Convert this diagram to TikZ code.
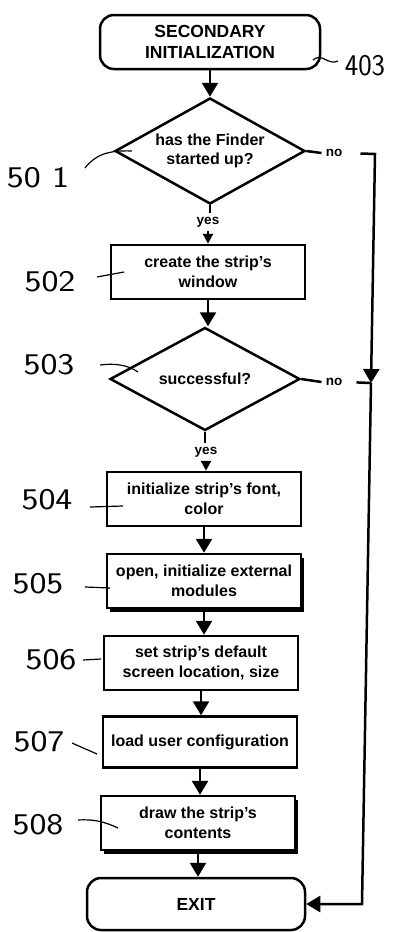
\documentclass[tikz,border=0pt]{standalone}
\usepackage{fontspec}
\setmainfont{Liberation Sans}
\usetikzlibrary{shapes.geometric,arrows.meta,shadows}
\newcommand{\hw}[2][1.2]{\scalebox{#1}[1]{#2}}
\begin{document}
\begin{tikzpicture}[x=1pt,y=-1pt,
  line width=2.5pt,
  body/.style={font=\fontsize{16}{19.5}\selectfont\bfseries, align=center},
  term/.style={rectangle, rounded corners=14pt, draw, fill=white, minimum width=220pt, minimum height=54pt, font=\fontsize{17.5}{21}\selectfont\bfseries, align=center, inner sep=0pt},
  proc/.style={rectangle, draw, fill=white, minimum width=194pt, minimum height=54pt, body, inner sep=0pt},
  dec/.style={diamond, draw, fill=white, aspect=1.8, minimum width=190pt, minimum height=106pt, body, inner sep=0pt},
  shad/.style={drop shadow={shadow xshift=3pt, shadow yshift=-4pt, fill=black, opacity=1}},
  flow/.style={-{Triangle[width=16pt,length=14pt]}},
  smallarr/.style={-{Triangle[width=10pt,length=10pt]}},
  lab/.style={font=\fontsize{13.5}{14}\selectfont\bfseries, inner sep=3pt},
  hand/.style={font=\fontsize{30}{30}\selectfont\sffamily, inner sep=0pt},
  lead/.style={line width=1.2pt}]
\useasboundingbox (0,0) rectangle (396,932);
% nodes
\node[term] (start) at (210,42) {SECONDARY\\INITIALIZATION};
\node[dec] (d1) at (210,151) {has the Finder\\started up?};
\node[lab] (yes1) at (208,222) {yes};
\node[proc] (p502) at (208,272) {create the strip's\\window};
\node[dec, minimum height=103pt] (d2) at (205,379) {successful?};
\node[lab] (yes2) at (206,452) {yes};
\node[proc] (p504) at (204,499) {initialize strip's font,\\color};
\node[proc, shad] (p505) at (204,581) {open, initialize external\\modules};
\node[proc] (p506) at (201,663) {set strip's default\\screen location, size};
\node[proc, minimum height=51pt] (p507) at (200,742) {load user configuration};
\node[proc, shad] (p508) at (198,823) {draw the strip's\\contents};
\node[term, minimum width=218pt, minimum height=52pt] (exit) at (196,904) {EXIT};
\node[lab] (no1) at (334,153) {no};
\node[lab] (no2) at (334,382) {no};
\coordinate (c1) at (375,154);
\coordinate (j) at (371,383);
\coordinate (c3) at (362,904);
% main flow
\draw[flow] (start.south) -- (start.south |- d1.north);
\draw (d1.south) -- (d1.south |- yes1.north);
\draw[smallarr] (yes1.south) -- (yes1.south |- p502.north);
\draw[flow] (p502.south) -- (p502.south |- d2.north);
\draw (d2.south) -- (d2.south |- yes2.north);
\draw[smallarr] (yes2.south) -- (yes2.south |- p504.north);
\draw[flow] (p504.south) -- (p504.south |- p505.north);
\draw[flow] (p505.south) -- (p505.south |- p506.north);
\draw[flow] (p506.south) -- (p506.south |- p507.north);
\draw[flow] (p507.south) -- (p507.south |- p508.north);
\draw[flow] (p508.south) -- (p508.south |- exit.north);
% no branches
\draw (d1.east) -- (no1.west);
\draw[flow, shorten <=14pt] (no1.east) -- (c1) -- (j);
\draw (d2.east) -- (no2.west);
\draw[shorten <=10pt] (no2.east) -- (j);
\draw[flow] (j) -- (c3) -- (exit.east);
% reference numerals
\node[hand] (l403) at (365,66) {\hw[0.95]{403}};
\node[hand] (l501) at (38,178) {\hw{50 1}};
\node[hand] (l502) at (50,282) {\hw{502}};
\node[hand] (l503) at (49,365) {\hw{503}};
\node[hand] (l504) at (47,500) {\hw{504}};
\node[hand] (l505) at (38,584) {\hw{505}};
\node[hand] (l506) at (51,660) {\hw{506}};
\node[hand] (l507) at (39,742) {\hw{507}};
\node[hand] (l508) at (38,825) {\hw{508}};
% leader targets
\coordinate (t403a) at (338,61);
\coordinate (t403) at (313,60);
\coordinate (t501a) at (85,168);
\coordinate (t501) at (132,151);
\coordinate (t502a) at (97,277);
\coordinate (t502) at (124,272);
\coordinate (t503a) at (100,365);
\coordinate (t503) at (138,372);
\coordinate (t504a) at (90,507);
\coordinate (t504) at (123,506);
\coordinate (t505a) at (85,587);
\coordinate (t505) at (110,588);
\coordinate (t506a) at (83,660);
\coordinate (t506) at (101,659);
\coordinate (t507a) at (72,743);
\coordinate (t507) at (97,754);
\coordinate (t508a) at (78,820);
\coordinate (t508) at (118,828);
\draw[lead] (t403a) .. controls (328,66) and (322,52) .. (t403);
\draw[lead] (t501a) .. controls (95,155) and (108,150) .. (t501);
\draw[lead] (t502a) -- (t502);
\draw[lead] (t503a) .. controls (115,363) and (128,365) .. (t503);
\draw[lead] (t504a) -- (t504);
\draw[lead] (t505a) -- (t505);
\draw[lead] (t506a) -- (t506);
\draw[lead] (t507a) -- (t507);
\draw[lead] (t508a) .. controls (95,819) and (105,822) .. (t508);
\end{tikzpicture}
\end{document}
